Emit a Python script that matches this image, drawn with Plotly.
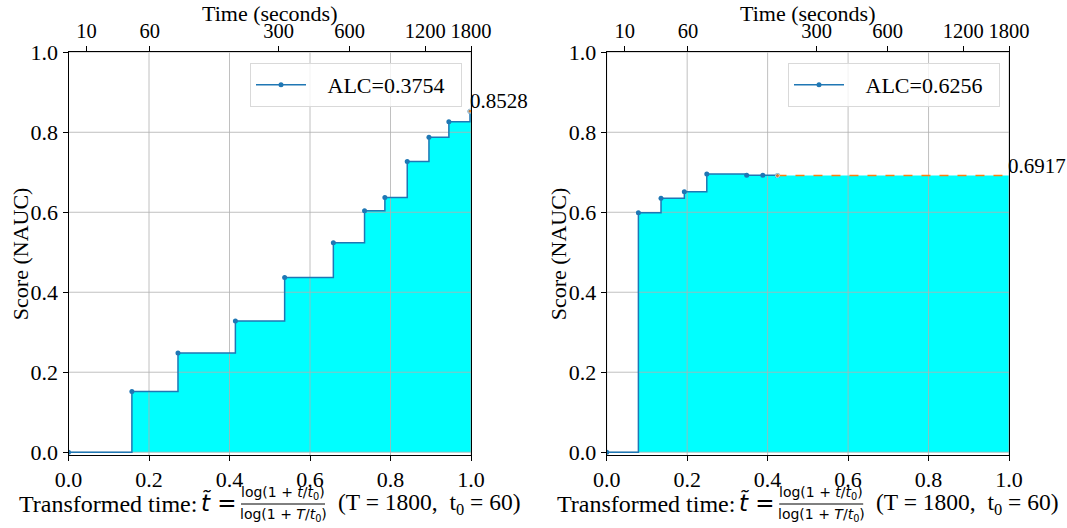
import math
import plotly.graph_objects as go

W, H = 1067, 528

# ---------------- data ----------------
left_x = [0.0, 0.1575, 0.272, 0.4146, 0.537, 0.658, 0.7355, 0.786, 0.8416, 0.8955, 0.945, 0.9975]
left_y = [0.0, 0.152, 0.248, 0.328, 0.437, 0.524, 0.604, 0.637, 0.727, 0.7875, 0.8266, 0.8528]
right_x = [0.0, 0.0788, 0.135, 0.193, 0.2488, 0.348, 0.388, 0.4245]
right_y = [0.0, 0.599, 0.635, 0.6516, 0.6957, 0.6924, 0.6924, 0.6917]
left_alc = "ALC=0.3754"
right_alc = "ALC=0.6256"
left_final = "0.8528"
right_final = "0.6917"
x_ticks = [0.0, 0.2, 0.4, 0.6, 0.8, 1.0]
y_ticks = [0.0, 0.2, 0.4, 0.6, 0.8, 1.0]
time_ticks = [10, 60, 300, 600, 1200, 1800]
T_MAX, T0 = 1800, 60
Y_RANGE = [-0.007, 1.0]
X_RANGE = [0.0, 1.0]

SERIF = "Liberation Serif, Times New Roman, serif"
SANS = "DejaVu Sans, sans-serif"
BLUE = "#1f77b4"
ORANGE = "#ff7f0e"
CYAN = "#00ffff"
GRID = "#b0b0b0"
NB = "\u00a0"


def transform(t):
    return math.log(1 + t / T0) / math.log(1 + T_MAX / T0)


def fx(p):
    return p / W


def fy(p):
    return 1 - p / H


panels = [(68.5, 471.0), (606.7, 1009.0)]
TOP, BOTTOM = 52.3, 455.0

fig = go.Figure()

datasets = [
    (left_x, left_y, left_alc, left_final, "legend"),
    (right_x, right_y, right_alc, right_final, "legend2"),
]

for i, (xs, ys, alc, final, leg) in enumerate(datasets):
    xa = "x" if i == 0 else "x2"
    ya = "y" if i == 0 else "y2"
    ta = "x3" if i == 0 else "x4"
    # fill
    fig.add_trace(go.Scatter(x=xs + [X_RANGE[1]], y=ys + [ys[-1]], mode="lines",
                             line=dict(shape="hv", width=0, color=CYAN), fill="tozeroy",
                             fillcolor=CYAN, showlegend=False, hoverinfo="skip",
                             xaxis=xa, yaxis=ya))
    # grid above the fill
    gx, gy = [], []
    for v in x_ticks:
        gx += [v, v, None]
        gy += [Y_RANGE[0], Y_RANGE[1], None]
    for v in y_ticks:
        gx += [X_RANGE[0], X_RANGE[1], None]
        gy += [v, v, None]
    fig.add_trace(go.Scatter(x=gx, y=gy, mode="lines", line=dict(color=GRID, width=0.8),
                             showlegend=False, hoverinfo="skip", xaxis=xa, yaxis=ya))
    # step curve
    fig.add_trace(go.Scatter(x=xs, y=ys, mode="lines+markers", name=NB * 3 + alc + NB * 2,
                             line=dict(shape="hv", color=BLUE, width=1.5),
                             marker=dict(size=5, color=BLUE), legend=leg,
                             xaxis=xa, yaxis=ya))
    # extension to the end
    fig.add_trace(go.Scatter(x=[xs[-1], X_RANGE[1]], y=[ys[-1], ys[-1]], mode="lines+markers",
                             line=dict(color=ORANGE, width=1.5, dash="dash"),
                             marker=dict(size=[4, 0], color=ORANGE), showlegend=False,
                             xaxis=xa, yaxis=ya))
    # invisible trace so the top (time) axis is drawn
    fig.add_trace(go.Scatter(x=[0.5], y=[0.5], mode="markers", marker=dict(opacity=0),
                             showlegend=False, hoverinfo="skip", xaxis=ta, yaxis=ya))
    # final value text
    fig.add_annotation(x=X_RANGE[1], y=ys[-1], xref=xa, yref=ya, text=final, showarrow=False,
                       xanchor="left", yanchor="bottom", xshift=-3, yshift=-4,
                       font=dict(family=SERIF, size=21, color="black"))

axis_common = dict(range=X_RANGE, showgrid=False, zeroline=False, showline=True,
                   linecolor="black", linewidth=1, ticks="outside", ticklen=5,
                   tickwidth=1, tickcolor="black", automargin=False, tickangle=0,
                   tickfont=dict(family=SERIF, size=22, color="black"))

layout = dict(width=W, height=H, margin=dict(l=0, r=0, t=0, b=0, autoexpand=False),
              paper_bgcolor="white", plot_bgcolor="white", showlegend=True)

for i, (l, r) in enumerate(panels):
    xname = "xaxis" if i == 0 else "xaxis2"
    yname = "yaxis" if i == 0 else "yaxis2"
    tname = "xaxis3" if i == 0 else "xaxis4"
    xa = "x" if i == 0 else "x2"
    ya = "y" if i == 0 else "y2"
    dom_x = [fx(l), fx(r)]
    dom_y = [fy(BOTTOM), fy(TOP)]
    layout[xname] = dict(axis_common, domain=dom_x, anchor=ya, mirror=True,
                         tickvals=x_ticks, ticktext=[f"{v:.1f}" for v in x_ticks])
    layout[yname] = dict(axis_common, range=Y_RANGE, domain=dom_y, anchor=xa, mirror=True,
                         tickvals=y_ticks, ticktext=[f"{v:.1f}" for v in y_ticks])
    layout[tname] = dict(axis_common, overlaying=xa, side="top", anchor=ya,
                         tickvals=[transform(t) for t in time_ticks],
                         ticktext=[str(t) for t in time_ticks],
                         tickfont=dict(family=SERIF, size=20.5, color="black"))

    cx = (l + r) / 2
    # axis titles
    fig.add_annotation(x=fx(cx), y=fy(13), xref="paper", yref="paper", text="Time (seconds)",
                       showarrow=False, xanchor="center", yanchor="middle",
                       font=dict(family=SERIF, size=22, color="black"))
    fig.add_annotation(x=fx(l - 48), y=fy((TOP + BOTTOM) / 2), xref="paper", yref="paper",
                       text="Score (NAUC)", textangle=-90, showarrow=False,
                       xanchor="center", yanchor="middle",
                       font=dict(family=SERIF, size=22, color="black"))
    # bottom label made of pieces
    off = l - panels[0][0]
    fig.add_annotation(x=fx(199 + off), y=fy(504), xref="paper", yref="paper",
                       text="Transformed time:", showarrow=False, xanchor="right",
                       yanchor="middle", font=dict(family=SERIF, size=24, color="black"))
    fig.add_annotation(x=fx(199 + off), y=fy(503), xref="paper", yref="paper",
                       text="<i>t\u0303</i> =", showarrow=False, xanchor="left",
                       yanchor="middle", font=dict(family=SANS, size=23, color="black"))
    frac_c = 283 + off
    fig.add_annotation(x=fx(frac_c), y=fy(493), xref="paper", yref="paper",
                       text="log(1 + <i>t</i>/<i>t</i><sub>0</sub>)", showarrow=False,
                       xanchor="center", yanchor="middle",
                       font=dict(family=SANS, size=14, color="black"))
    fig.add_annotation(x=fx(frac_c), y=fy(515), xref="paper", yref="paper",
                       text="log(1 + <i>T</i>/<i>t</i><sub>0</sub>)", showarrow=False,
                       xanchor="center", yanchor="middle",
                       font=dict(family=SANS, size=14, color="black"))
    fig.add_shape(type="line", xref="paper", yref="paper", x0=fx(241 + off), x1=fx(325 + off),
                  y0=fy(504), y1=fy(504), line=dict(color="black", width=1))
    fig.add_annotation(x=fx(336 + off), y=fy(504), xref="paper", yref="paper",
                       text="(T = 1800,  t<sub>0</sub> = 60)", showarrow=False, xanchor="left",
                       yanchor="middle", font=dict(family=SERIF, size=23.5, color="black"))

leg_common = dict(bgcolor="rgba(255,255,255,0.8)", bordercolor="#d9d9d9", borderwidth=1,
                  font=dict(family=SERIF, size=22, color="black"), xanchor="right",
                  yanchor="top", itemwidth=50)
layout["legend"] = dict(leg_common, x=fx(462), y=fy(63))
layout["legend2"] = dict(leg_common, x=fx(1000), y=fy(63))

fig.update_layout(**layout)
fig.write_html("out.html", config={"displayModeBar": False},
               post_script="document.body.style.margin='0px';")
